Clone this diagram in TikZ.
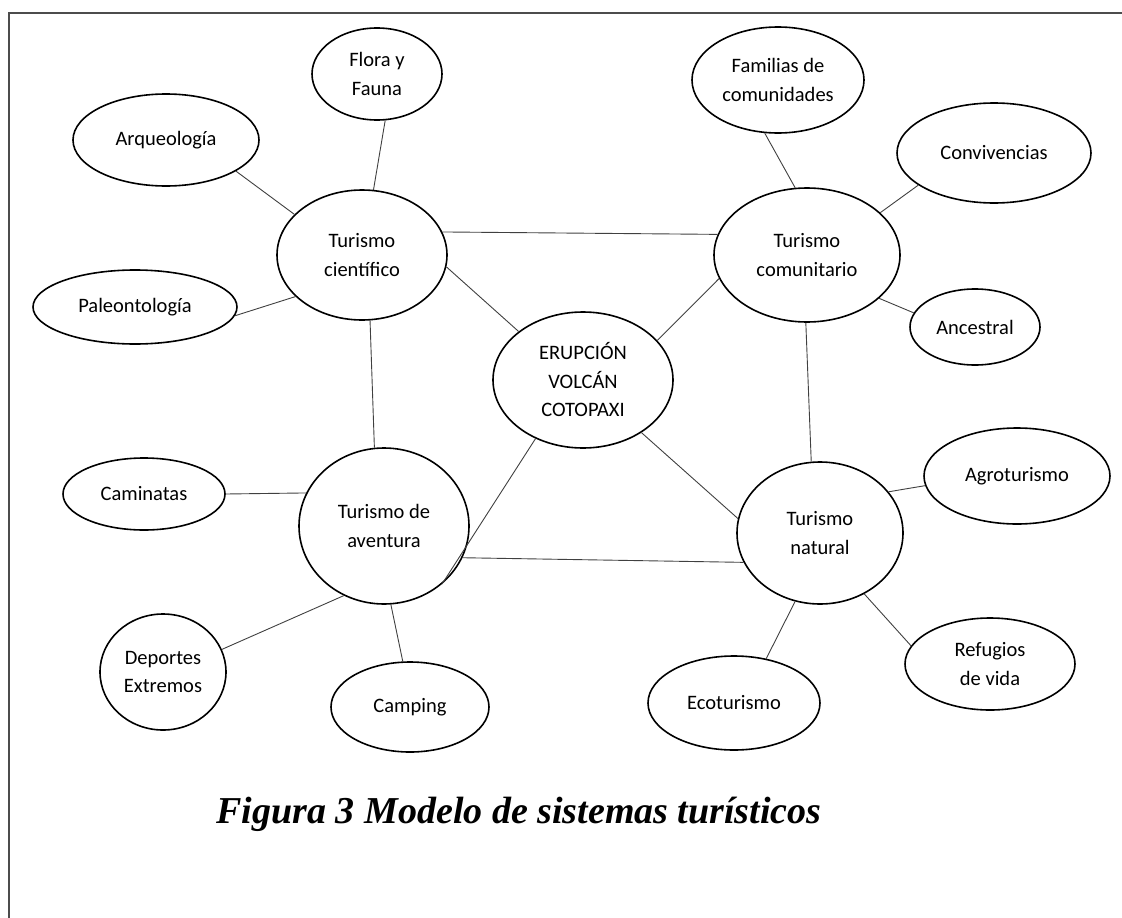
\documentclass[tikz,border=0pt]{standalone}
\usepackage{fontspec}
\setmainfont{Carlito}
\newfontfamily\capfont{Liberation Serif}
\usetikzlibrary{shapes.geometric}
\begin{document}
\begin{tikzpicture}[x=1pt, y=-1pt,
	blase/.style={ellipse, draw, line width=1.6pt, inner sep=0pt, align=center,
		font=\fontsize{20.5}{28.5}\selectfont},
	verb/.style={line width=0.9pt, draw=black!75}]
	\useasboundingbox (0,0) rectangle (1122,918);
	%%Rahmen
		\draw[line width=1.6pt, black!70] (9,918) -- (9,13) -- (1122,13);
	%%Zentrum
	\node[blase, minimum width=180pt, minimum height=136pt] (erup) at (583,380) {ERUPCIÓN\\VOLCÁN\\COTOPAXI};
	%%Hauptknoten
	\node[blase, minimum width=170pt, minimum height=130pt] (cien) at (362,255) {Turismo\\científico};
	\node[blase, minimum width=186pt, minimum height=134pt] (comu) at (807,255) {Turismo\\comunitario};
	\node[blase, minimum width=170pt, minimum height=156pt] (aven) at (384,526) {Turismo de\\aventura};
	\node[blase, minimum width=166pt, minimum height=142pt] (natu) at (820,533) {Turismo\\natural};
	%%Unterknoten
	\node[blase, minimum width=130pt, minimum height=92pt] (flora) at (377,74) {Flora y\\Fauna};
	\node[blase, minimum width=186pt, minimum height=92pt] (arqu) at (166,140) {Arqueología};
	\node[blase, minimum width=204pt, minimum height=74pt] (pale) at (135,307) {Paleontología};
	\node[blase, minimum width=172pt, minimum height=106pt] (fami) at (778,80) {Familias de\\comunidades};
	\node[blase, minimum width=194pt, minimum height=100pt] (conv) at (994,153) {Convivencias};
	\node[blase, minimum width=130pt, minimum height=76pt] (ance) at (975,327) {Ancestral};
	\node[blase, minimum width=162pt, minimum height=72pt] (cami) at (144,494) {Caminatas};
	\node[blase, minimum width=126pt, minimum height=116pt] (depo) at (163,672) {Deportes\\Extremos};
	\node[blase, minimum width=158pt, minimum height=90pt] (camp) at (410,707) {Camping};
	\node[blase, minimum width=186pt, minimum height=96pt] (agro) at (1017,476) {Agroturismo};
	\node[blase, minimum width=170pt, minimum height=92pt] (refu) at (990,664) {Refugios\\de vida};
	\node[blase, minimum width=172pt, minimum height=94pt] (ecot) at (734,703) {Ecoturismo};
	%%Verbindungen
	\draw[verb] (cien.16) -- (comu.167);
	\draw[verb] (cien.-8) -- (erup.143);
	\draw[verb] (cien.-83) -- (aven.97);
	\draw[verb] (comu.195) -- (erup.28);
	\draw[verb] (comu.-91) -- (natu.97);
	\draw[verb] (erup.231) -- (aven.-45);
	\draw[verb] (erup.-42) -- (natu.170);
	\draw[verb] (aven.-22) -- (natu.201);
	%%
	\draw[verb] (flora.-80) -- (cien.80);
	\draw[verb] (arqu.-24) -- (cien.149);
	\draw[verb] (pale.-5) -- (cien.212);
	\draw[verb] (fami.-104) -- (comu.100);
	\draw[verb] (conv.203) -- (comu.30);
	\draw[verb] (ance.167) -- (comu.-31);
	\draw[verb] (cami.0) -- (aven.157);
	\draw[verb] (depo.21) -- (aven.240);
	\draw[verb] (camp.99) -- (aven.-85);
	\draw[verb] (agro.186) -- (natu.31);
	\draw[verb] (refu.167) -- (natu.-54);
	\draw[verb] (ecot.54) -- (natu.250);
	%%Bildunterschrift
	\node[font=\capfont\bfseries\itshape\fontsize{38}{42}\selectfont] (titel) at (519,814) {Figura 3 Modelo de sistemas turísticos};
\end{tikzpicture}
\end{document}
